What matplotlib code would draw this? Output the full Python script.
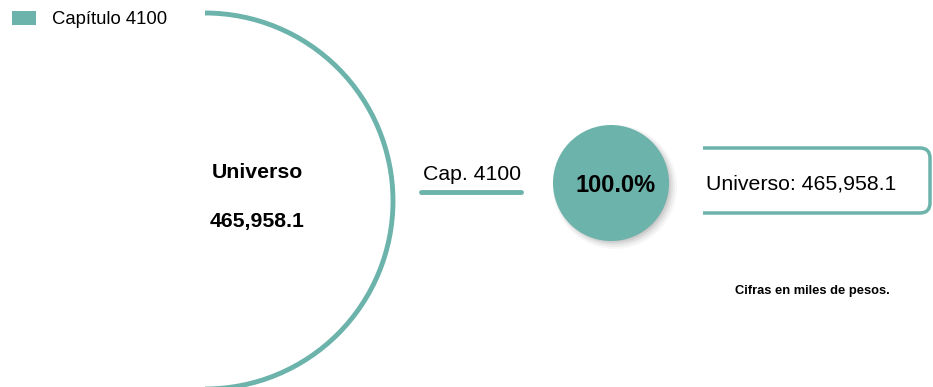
import matplotlib.pyplot as plt
from matplotlib.patches import Arc, Circle, Rectangle
from matplotlib.path import Path
from matplotlib.patches import PathPatch

capitulos = ['Capítulo 4100']
etiquetas = ['Cap. 4100']
montos = [465958.1]
universo = sum(montos)
pct = [m / universo * 100 for m in montos]

verde = '#6bb3ab'
plt.rcParams['font.family'] = ['Liberation Sans', 'DejaVu Sans']

fig = plt.figure(figsize=(9.33, 3.87), dpi=100)
ax = fig.add_axes([0, 0, 1, 1])
ax.set_xlim(0, 933)
ax.set_ylim(387, 0)
ax.set_aspect('equal')
ax.axis('off')

# leyenda
ax.add_patch(Rectangle((12, 11), 24, 14, color=verde, lw=0))
ax.text(52, 19, capitulos[0], fontsize=13.3, va='center', ha='left')

# arco del universo
ax.add_patch(Arc((205, 201), 376, 376, theta1=-90, theta2=90, color=verde, lw=3.5))
ax.text(257, 172, 'Universo', fontsize=15.3, fontweight='bold', ha='center', va='center')
ax.text(257, 221, f'{universo:,.1f}', fontsize=15.3, fontweight='bold', ha='center', va='center')

# capitulo
ax.text(472, 174, etiquetas[0], fontsize=15.3, ha='center', va='center')
ax.plot([421, 521], [192, 192], color=verde, lw=3.5, solid_capstyle='round')

# circulo con sombra
for i, a in enumerate([0.03, 0.04, 0.05, 0.07, 0.09]):
    ax.add_patch(Circle((615 - i * 0.5, 187 - i * 0.5), 62 - i * 1.5, color='black', alpha=a, lw=0))
ax.add_patch(Circle((611, 183), 58, color=verde, lw=0))
ax.text(616, 185, f'{pct[0]:.1f}%', fontsize=17, fontweight='bold', ha='center', va='center')

# caja redondeada abierta a la izquierda
x0, x1, y0, y1, r = 703, 930, 148, 213, 10
verts = [(x0, y0), (x1 - r, y0), (x1, y0), (x1, y0 + r), (x1, y1 - r), (x1, y1), (x1 - r, y1), (x0, y1)]
codes = [Path.MOVETO, Path.LINETO, Path.CURVE3, Path.CURVE3, Path.LINETO, Path.CURVE3, Path.CURVE3, Path.LINETO]
ax.add_patch(PathPatch(Path(verts, codes), fill=False, edgecolor=verde, lw=2.5))
ax.text(706, 184, f'Universo: {montos[0]:,.1f}', fontsize=15.3, ha='left', va='center')

ax.text(812, 291, 'Cifras en miles de pesos.', fontsize=9.3, fontweight='bold', ha='center', va='center')

fig.savefig('out.png', dpi=100)
